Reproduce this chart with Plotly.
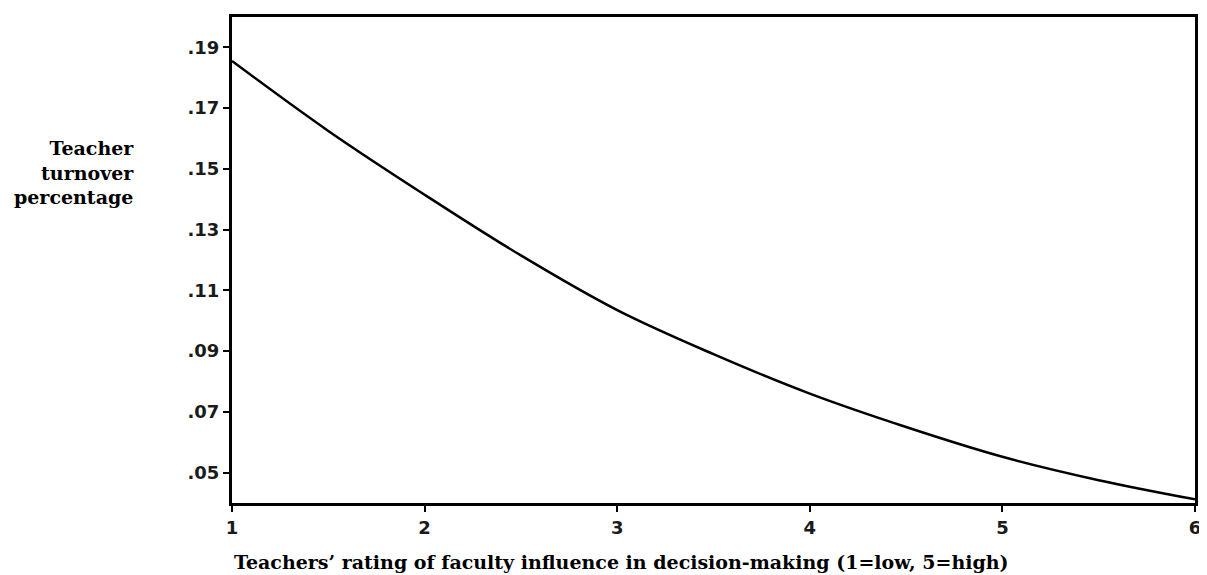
import plotly.graph_objects as go

# Data
rating = [1.0, 1.5, 2.0, 2.5, 3.0, 3.5, 4.0, 4.5, 5.0, 5.5, 6.0]
turnover = [0.1855, 0.1625, 0.1415, 0.1215, 0.1035, 0.0890, 0.0760, 0.0650, 0.0552, 0.0475, 0.0412]

y_ticks = [0.05, 0.07, 0.09, 0.11, 0.13, 0.15, 0.17, 0.19]
y_labels = [".05", ".07", ".09", ".11", ".13", ".15", ".17", ".19"]
x_ticks = [1, 2, 3, 4, 5, 6]
x_labels = ["1", "2", "3", "4", "5", "6"]

x_title = "Teachers\u2019 rating of faculty influence in decision-making (1=low, 5=high)"
y_title = "Teacher<br>turnover<br>percentage"

fig = go.Figure()
fig.add_trace(go.Scatter(
    x=rating, y=turnover, mode="lines",
    line=dict(color="black", width=2.5, shape="spline", smoothing=1.0),
    hoverinfo="skip", showlegend=False,
))

tick_font = dict(family="DejaVu Sans, Arial, sans-serif", size=18, color="#1a1a1a", weight="bold")
axis_common = dict(
    showgrid=False, zeroline=False, showline=True, linecolor="black", linewidth=3,
    mirror=True, ticks="outside", ticklen=6, tickwidth=2, tickcolor="black",
    tickfont=tick_font, ticklabeloverflow="allow",
)
fig.update_xaxes(range=[1, 6], tickvals=x_ticks, ticktext=x_labels, **axis_common)
fig.update_yaxes(range=[0.04, 0.2], tickvals=y_ticks, ticktext=y_labels, **axis_common)

title_font = dict(family="Georgia, 'DejaVu Serif', serif", size=19, color="black", weight="bold")
fig.add_annotation(
    text=x_title, xref="paper", yref="paper", x=0, y=-0.1207,
    xanchor="left", yanchor="middle", showarrow=False, font=title_font,
)
fig.add_annotation(
    text=y_title, xref="paper", yref="paper", x=-0.1, y=0.681,
    xanchor="right", yanchor="middle", align="right", showarrow=False, font=title_font,
)

fig.update_layout(
    width=1199, height=567,
    margin=dict(l=224, r=9, t=6, b=72),
    plot_bgcolor="white", paper_bgcolor="white",
)

fig.write_html("out.html")
